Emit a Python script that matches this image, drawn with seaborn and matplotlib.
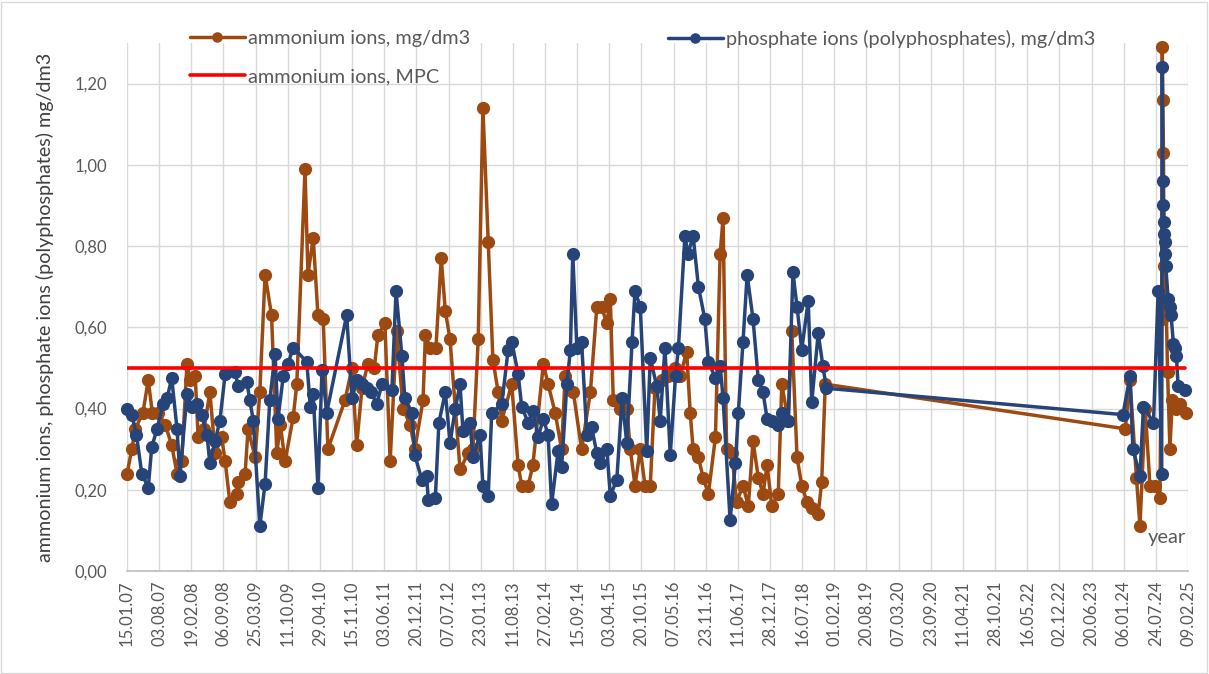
import numpy as np
import pandas as pd
import matplotlib
matplotlib.use("Agg")
import matplotlib.pyplot as plt
import matplotlib.dates as mdates
import seaborn as sns

# sample dates as decimal years, values in mg/dm3
amm_year = [2007.04, 2007.12, 2007.18, 2007.31, 2007.40, 2007.47, 2007.57, 2007.69, 2007.80, 2007.89,
            2007.97, 2008.06, 2008.11, 2008.20, 2008.25, 2008.35, 2008.45, 2008.54, 2008.65, 2008.71,
            2008.79, 2008.91, 2008.93, 2009.05, 2009.10, 2009.22, 2009.30, 2009.39, 2009.50, 2009.59,
            2009.65, 2009.73, 2009.87, 2009.93, 2010.07, 2010.12, 2010.21, 2010.29, 2010.38, 2010.46,
            2010.75, 2010.87, 2010.95, 2011.04, 2011.14, 2011.25, 2011.31, 2011.43, 2011.52, 2011.63,
            2011.74, 2011.86, 2011.94, 2012.08, 2012.12, 2012.20, 2012.30, 2012.39, 2012.46, 2012.54,
            2012.63, 2012.71, 2012.85, 2012.93, 2013.02, 2013.10, 2013.19, 2013.27, 2013.36, 2013.42,
            2013.59, 2013.70, 2013.76, 2013.87, 2013.95, 2014.13, 2014.21, 2014.33, 2014.44, 2014.50,
            2014.64, 2014.78, 2014.93, 2015.04, 2015.12, 2015.21, 2015.27, 2015.32, 2015.44, 2015.55,
            2015.61, 2015.69, 2015.78, 2015.86, 2015.95, 2016.03, 2016.15, 2016.25, 2016.37, 2016.46,
            2016.57, 2016.63, 2016.68, 2016.77, 2016.85, 2016.94, 2017.06, 2017.14, 2017.19, 2017.25,
            2017.34, 2017.42, 2017.53, 2017.62, 2017.70, 2017.79, 2017.87, 2017.94, 2018.02, 2018.13,
            2018.19, 2018.30, 2018.36, 2018.45, 2018.53, 2018.62, 2018.70, 2018.81, 2018.87, 2018.93,
            2024.04, 2024.12, 2024.23, 2024.29, 2024.38, 2024.46, 2024.55, 2024.63, 2024.66, 2024.67,
            2024.68, 2024.69, 2024.70, 2024.72, 2024.74, 2024.76, 2024.80, 2024.84, 2024.91, 2024.97,
            2025.08]
amm_value = [0.24, 0.30, 0.35, 0.39, 0.47, 0.39, 0.39, 0.36, 0.31, 0.24,
             0.27, 0.51, 0.47, 0.48, 0.33, 0.35, 0.44, 0.29, 0.33, 0.27,
             0.17, 0.19, 0.22, 0.24, 0.35, 0.28, 0.44, 0.73, 0.63, 0.29,
             0.36, 0.27, 0.38, 0.46, 0.99, 0.73, 0.82, 0.63, 0.62, 0.30,
             0.42, 0.50, 0.31, 0.45, 0.51, 0.50, 0.58, 0.61, 0.27, 0.59,
             0.40, 0.36, 0.30, 0.42, 0.58, 0.55, 0.55, 0.77, 0.64, 0.57,
             0.40, 0.25, 0.29, 0.30, 0.57, 1.14, 0.81, 0.52, 0.44, 0.37,
             0.46, 0.26, 0.21, 0.21, 0.26, 0.51, 0.46, 0.39, 0.30, 0.48,
             0.44, 0.30, 0.44, 0.65, 0.65, 0.61, 0.67, 0.42, 0.40, 0.40,
             0.30, 0.21, 0.30, 0.21, 0.21, 0.45, 0.47, 0.48, 0.50, 0.48,
             0.54, 0.39, 0.30, 0.28, 0.23, 0.19, 0.33, 0.78, 0.87, 0.30,
             0.29, 0.17, 0.21, 0.16, 0.32, 0.23, 0.19, 0.26, 0.16, 0.19,
             0.46, 0.37, 0.59, 0.28, 0.21, 0.17, 0.155, 0.14, 0.22, 0.46,
             0.35, 0.47, 0.23, 0.11, 0.40, 0.21, 0.21, 0.18, 0.62, 1.29,
             1.16, 1.03, 0.75, 0.66, 0.63, 0.49, 0.30, 0.42, 0.40, 0.41,
             0.39]

phos_year = [2007.03, 2007.12, 2007.20, 2007.29, 2007.40, 2007.46, 2007.55, 2007.65, 2007.72, 2007.80,
             2007.89, 2007.94, 2008.06, 2008.14, 2008.23, 2008.31, 2008.40, 2008.45, 2008.54, 2008.62,
             2008.71, 2008.88, 2008.93, 2009.08, 2009.13, 2009.19, 2009.30, 2009.39, 2009.47, 2009.56,
             2009.61, 2009.70, 2009.78, 2009.87, 2010.10, 2010.16, 2010.21, 2010.29, 2010.36, 2010.44,
             2010.78, 2010.87, 2010.95, 2011.04, 2011.13, 2011.20, 2011.29, 2011.38, 2011.55, 2011.62,
             2011.72, 2011.77, 2011.89, 2011.94, 2012.06, 2012.14, 2012.17, 2012.29, 2012.35, 2012.46,
             2012.54, 2012.63, 2012.71, 2012.76, 2012.88, 2012.93, 2013.05, 2013.10, 2013.19, 2013.25,
             2013.42, 2013.53, 2013.59, 2013.70, 2013.76, 2013.87, 2013.95, 2014.04, 2014.13, 2014.21,
             2014.27, 2014.38, 2014.44, 2014.53, 2014.59, 2014.63, 2014.70, 2014.78, 2014.87, 2014.95,
             2015.04, 2015.10, 2015.21, 2015.27, 2015.38, 2015.47, 2015.55, 2015.64, 2015.69, 2015.78,
             2015.89, 2015.95, 2016.06, 2016.12, 2016.20, 2016.29, 2016.38, 2016.43, 2016.54, 2016.59,
             2016.68, 2016.77, 2016.88, 2016.94, 2017.06, 2017.14, 2017.19, 2017.31, 2017.40, 2017.45,
             2017.53, 2017.60, 2017.70, 2017.79, 2017.87, 2017.94, 2018.03, 2018.13, 2018.20, 2018.30,
             2018.38, 2018.45, 2018.53, 2018.64, 2018.70, 2018.81, 2018.89, 2018.95,
             2024.00, 2024.12, 2024.17, 2024.29, 2024.35, 2024.52, 2024.60, 2024.66, 2024.67, 2024.68,
             2024.69, 2024.70, 2024.705, 2024.71, 2024.72, 2024.73, 2024.77, 2024.80, 2024.82, 2024.86,
             2024.89, 2024.91, 2024.94, 2025.06]
phos_value = [0.40, 0.385, 0.335, 0.24, 0.205, 0.305, 0.35, 0.41, 0.425, 0.475,
              0.35, 0.235, 0.435, 0.405, 0.41, 0.385, 0.335, 0.265, 0.32, 0.37,
              0.485, 0.49, 0.455, 0.465, 0.42, 0.37, 0.11, 0.215, 0.42, 0.535,
              0.375, 0.48, 0.51, 0.55, 0.515, 0.405, 0.435, 0.205, 0.495, 0.39,
              0.63, 0.425, 0.47, 0.46, 0.45, 0.44, 0.41, 0.46, 0.445, 0.69,
              0.53, 0.425, 0.39, 0.285, 0.225, 0.235, 0.175, 0.18, 0.365, 0.44,
              0.315, 0.40, 0.46, 0.345, 0.365, 0.28, 0.335, 0.21, 0.185, 0.39,
              0.41, 0.545, 0.565, 0.485, 0.405, 0.365, 0.395, 0.33, 0.375, 0.335,
              0.165, 0.295, 0.255, 0.46, 0.545, 0.78, 0.55, 0.565, 0.335, 0.355,
              0.29, 0.265, 0.30, 0.185, 0.225, 0.425, 0.315, 0.565, 0.69, 0.65,
              0.295, 0.525, 0.455, 0.37, 0.55, 0.285, 0.48, 0.55, 0.825, 0.78,
              0.825, 0.70, 0.62, 0.515, 0.475, 0.505, 0.425, 0.125, 0.265, 0.39,
              0.565, 0.73, 0.62, 0.47, 0.44, 0.375, 0.37, 0.36, 0.39, 0.37,
              0.735, 0.65, 0.545, 0.665, 0.415, 0.585, 0.505, 0.45,
              0.385, 0.48, 0.30, 0.235, 0.405, 0.365, 0.69, 0.24, 1.24, 0.96,
              0.90, 0.86, 0.83, 0.81, 0.78, 0.75, 0.67, 0.65, 0.63, 0.56,
              0.55, 0.53, 0.455, 0.445]

mpc_year = [2007.04, 2025.06]
mpc_value = [0.50, 0.50]

AMM_COLOR = "#9C4A12"
PHOS_COLOR = "#264478"
MPC_COLOR = "#FF0000"


def to_dates(years):
    years = np.asarray(years, dtype=float)
    return pd.Timestamp("2007-01-01") + pd.to_timedelta((years - 2007) * 365.25, unit="D")


sns.set_theme(style="white")
plt.rcParams["font.family"] = ["Lato", "DejaVu Sans"]

fig = plt.figure(figsize=(12.09, 6.74), dpi=100)
ax = fig.add_axes([127 / 1209, 1 - 571 / 674, (1188 - 127) / 1209, (571 - 43) / 674])

line_kw = dict(linewidth=2.5, marker="o", markersize=9.5, markeredgewidth=0,
               estimator=None, sort=False, clip_on=False, solid_joinstyle="round")
sns.lineplot(x=to_dates(amm_year), y=amm_value, color=AMM_COLOR, ax=ax,
             label="ammonium ions, mg/dm3", zorder=3, **line_kw)
sns.lineplot(x=to_dates(phos_year), y=phos_value, color=PHOS_COLOR, ax=ax,
             label="phosphate ions (polyphosphates), mg/dm3", zorder=4, **line_kw)
sns.lineplot(x=to_dates(mpc_year), y=mpc_value, color=MPC_COLOR, ax=ax, linewidth=2.6,
             estimator=None, label="ammonium ions, MPC", zorder=5)

# axes
ax.set_xlim(pd.Timestamp("2007-01-15"), pd.Timestamp("2025-02-09"))
ax.set_ylim(0, 1.3)
ticks = pd.date_range("2007-01-15", periods=34, freq="200D")
ax.set_xticks(ticks)
ax.xaxis.set_major_formatter(mdates.DateFormatter("%d.%m.%y"))
ax.set_yticks(np.arange(0, 1.21, 0.2))
ax.set_yticklabels([f"{v:.2f}".replace(".", ",") for v in np.arange(0, 1.21, 0.2)])
ax.tick_params(axis="x", rotation=90, labelsize=12, colors="#595959", length=0, pad=7)
ax.tick_params(axis="y", labelsize=12, colors="#595959", length=0, pad=14)
ax.grid(True, color="#D9D9D9", linewidth=1)
ax.set_axisbelow(True)
for s in ["top", "right", "left"]:
    ax.spines[s].set_visible(False)
ax.spines["bottom"].set_color("#BFBFBF")

ax.set_xlabel("")
ax.set_ylabel("ammonium ions, phosphate ions (polyphosphates) mg/dm3",
              fontsize=14.2, color="#404040")
ax.yaxis.set_label_coords(-0.069, 0.5)
ax.text(0.98, 0.064, "year", transform=ax.transAxes, ha="center", va="center",
        fontsize=14.5, color="#595959")

# legend
h, l = ax.get_legend_handles_labels()
ax.get_legend().remove()
leg_kw = dict(frameon=False, fontsize=14.3, handlelength=2.75, handletextpad=0.15,
              markerscale=0.8, labelcolor="#595959", loc="upper left",
              borderaxespad=0, borderpad=0)
fig.legend([h[0], h[2]], [l[0], l[2]], bbox_to_anchor=(190 / 1209, 1 - 30 / 674),
           labelspacing=1.07, **leg_kw)
fig.legend([h[1]], [l[1]], bbox_to_anchor=(668 / 1209, 1 - 30 / 674), **leg_kw)

fig.patches.append(plt.Rectangle((0.001, 0.002), 0.997, 0.995, transform=fig.transFigure,
                                 fill=False, edgecolor="#D9D9D9", linewidth=1))

plt.savefig("out.png", dpi=100)
plt.close()
